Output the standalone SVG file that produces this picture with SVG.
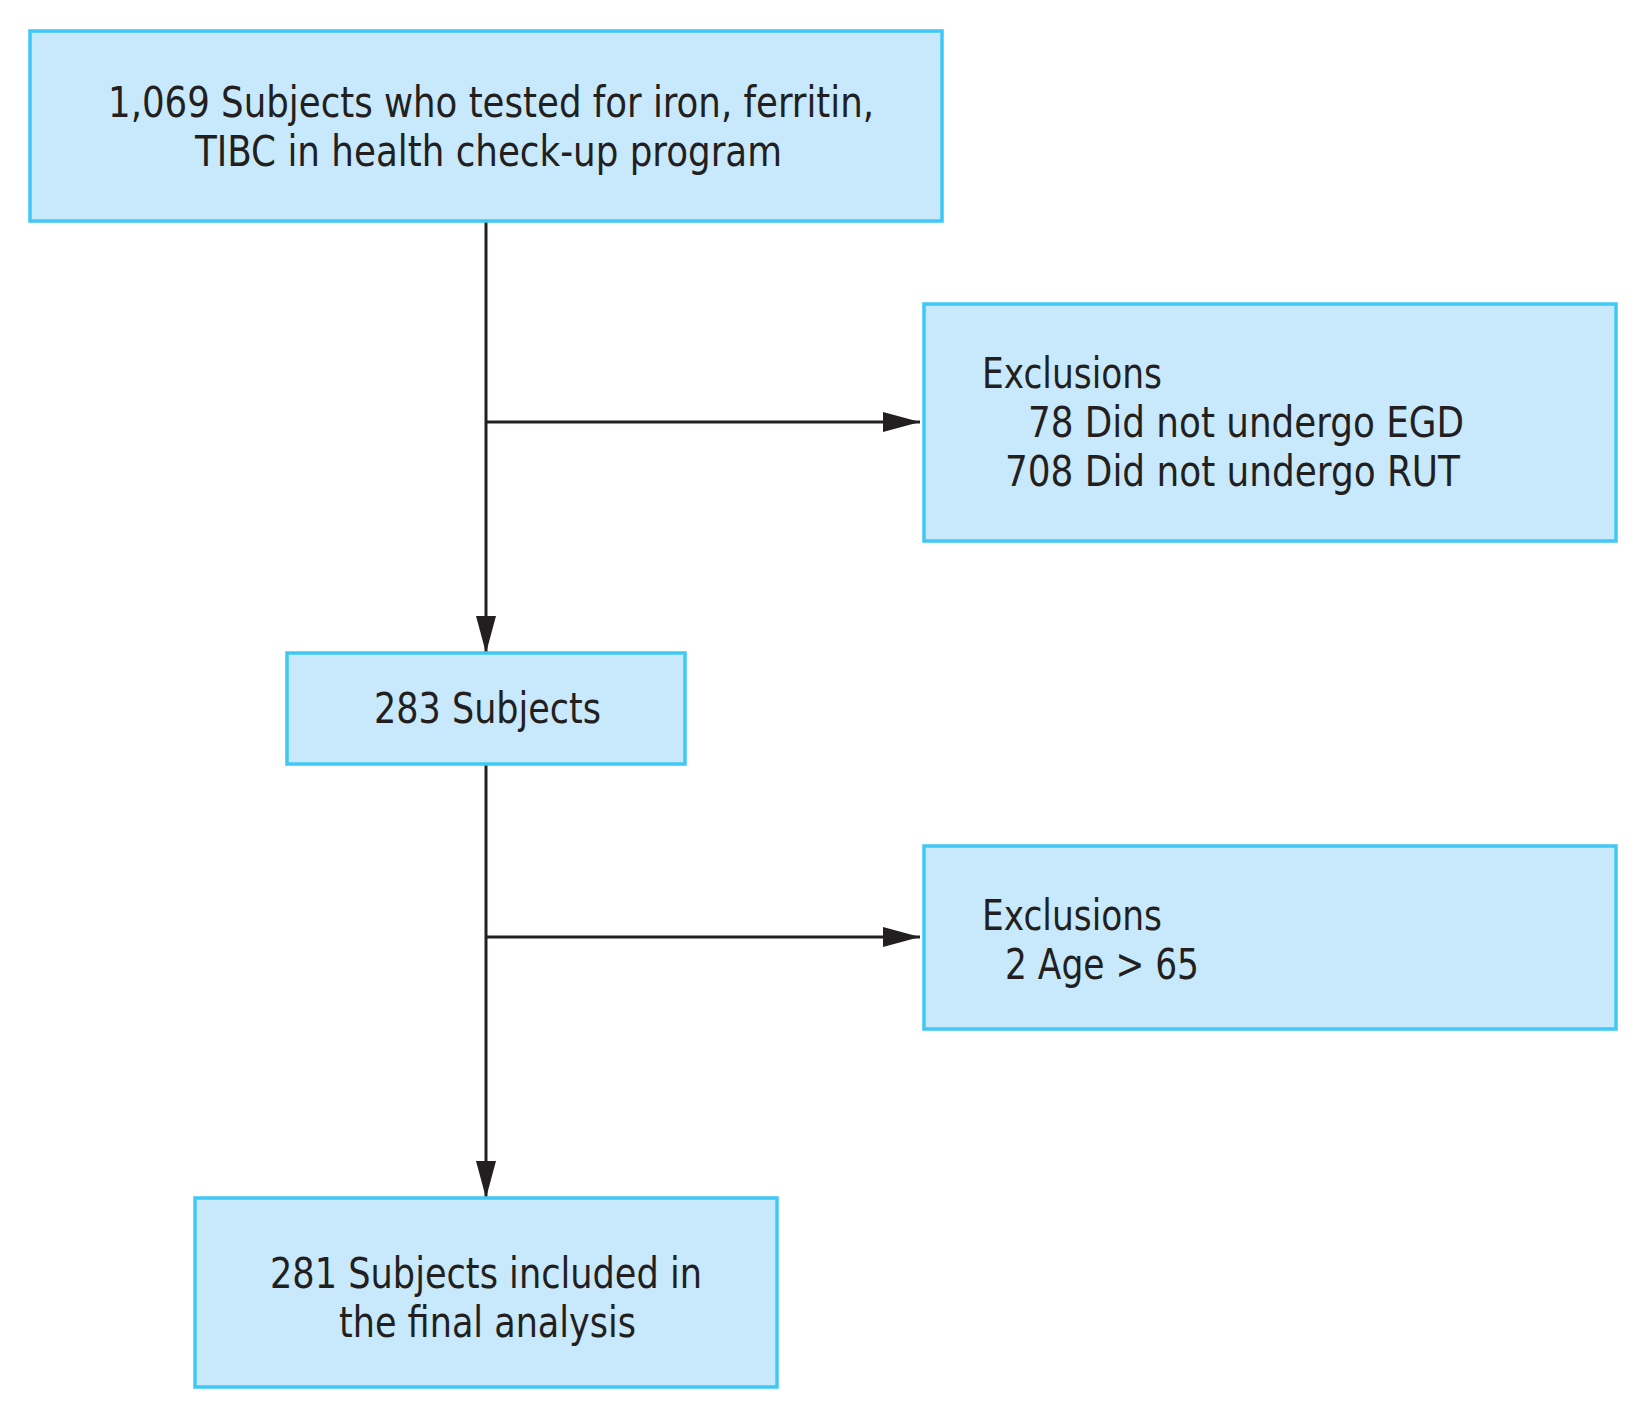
<svg xmlns="http://www.w3.org/2000/svg" width="1648" height="1419" viewBox="0 0 1648 1419">
<style>
.box{fill:#c7e9fb;stroke:#3fc8f4;stroke-width:3.5}
.t{font-family:"Liberation Sans Narrow","DejaVu Sans Condensed","Liberation Sans",sans-serif;font-size:43px;fill:#231f20}
.c{fill:none;stroke:#231f20;stroke-width:3}
</style>
<defs>
<marker id="ah" viewBox="0 0 37 20" refX="37" refY="10" markerWidth="37" markerHeight="20" markerUnits="userSpaceOnUse" orient="auto">
<path d="M0,0 L37,10 L0,20 Z" fill="#231f20"/>
</marker>
</defs>
<rect width="1648" height="1419" fill="#ffffff"/>
<g id="connectors">
<line class="c" x1="486" y1="221" x2="486" y2="653" marker-end="url(#ah)"/>
<line class="c" x1="486" y1="422" x2="920" y2="422" marker-end="url(#ah)"/>
<line class="c" x1="486" y1="764" x2="486" y2="1198" marker-end="url(#ah)"/>
<line class="c" x1="486" y1="937" x2="920" y2="937" marker-end="url(#ah)"/>
</g>
<g id="node-start">
<rect class="box" x="30" y="31" width="912" height="190"/>
<text class="t" x="108" y="117" textLength="766" lengthAdjust="spacingAndGlyphs">1,069 Subjects who tested for iron, ferritin,</text>
<text class="t" x="195" y="166" textLength="587" lengthAdjust="spacingAndGlyphs">TIBC in health check-up program</text>
</g>
<g id="node-excl1">
<rect class="box" x="924" y="304" width="692" height="237"/>
<text class="t" x="982" y="388" textLength="180" lengthAdjust="spacingAndGlyphs">Exclusions</text>
<text class="t" x="1028" y="437" textLength="436" lengthAdjust="spacingAndGlyphs">78 Did not undergo EGD</text>
<text class="t" x="1005" y="486" textLength="455" lengthAdjust="spacingAndGlyphs">708 Did not undergo RUT</text>
</g>
<g id="node-283">
<rect class="box" x="287" y="653" width="398" height="111"/>
<text class="t" x="374" y="723" textLength="227" lengthAdjust="spacingAndGlyphs">283 Subjects</text>
</g>
<g id="node-excl2">
<rect class="box" x="924" y="846" width="692" height="183"/>
<text class="t" x="982" y="930" textLength="180" lengthAdjust="spacingAndGlyphs">Exclusions</text>
<text class="t" x="1005" y="979" textLength="194" lengthAdjust="spacingAndGlyphs">2 Age &gt; 65</text>
</g>
<g id="node-final">
<rect class="box" x="195" y="1198" width="582" height="189"/>
<text class="t" x="270" y="1288" textLength="432" lengthAdjust="spacingAndGlyphs">281 Subjects included in</text>
<text class="t" x="339" y="1337" textLength="297" lengthAdjust="spacingAndGlyphs">the final analysis</text>
</g>
</svg>
